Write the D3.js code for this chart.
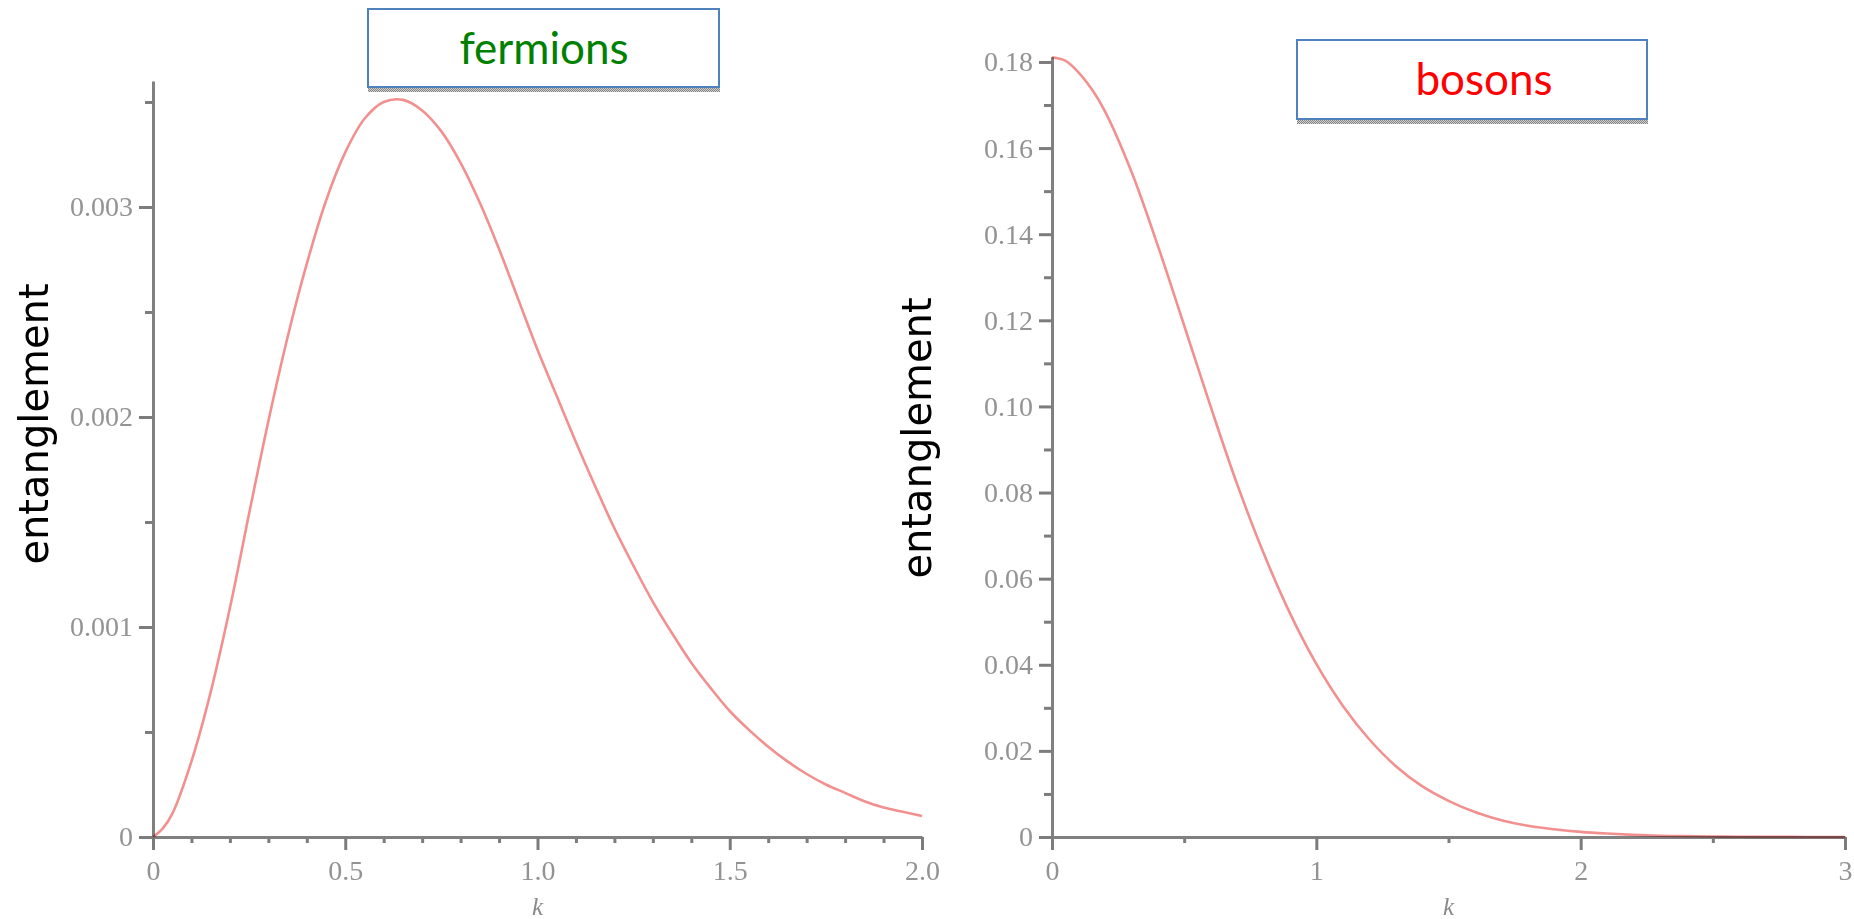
<!DOCTYPE html>
<head>
  <meta charset="utf-8">
  <script src="https://d3js.org/d3.v7.min.js"></script>
  <style>
    body { margin:0; background:#fff; }
    .axis .tick text { font-family: "Liberation Serif", serif; font-size: 28px; fill: #939393; filter: url(#soft); }
    .axis path.domain { stroke: #808080; stroke-width: 3; }
    .axis .tick line { stroke: #7c7c7c; stroke-width: 3; }
  </style>
</head>
<body>
<script>

  // fermions: entanglement vs k
  var kFerm = [0, 0.025, 0.05, 0.1, 0.15, 0.2, 0.25, 0.3, 0.35, 0.4, 0.45, 0.5, 0.55, 0.6, 0.65, 0.7,
    0.75, 0.8, 0.85, 0.9, 0.95, 1.0, 1.05, 1.1, 1.15, 1.2, 1.25, 1.3, 1.35, 1.4, 1.45, 1.5,
    1.55, 1.6, 1.65, 1.7, 1.75, 1.8, 1.85, 1.9, 1.95, 2.0]
  var entFerm = [0, 0.00004, 0.00011, 0.00036, 0.00069, 0.00109, 0.00154, 0.00198, 0.00238, 0.00273,
    0.00303, 0.00326, 0.00342, 0.0035, 0.00351, 0.00346, 0.00336, 0.00321, 0.00302, 0.0028,
    0.00256, 0.00232, 0.0021, 0.00188, 0.00167, 0.00147, 0.00129, 0.00112, 0.00097, 0.00083,
    0.00071, 0.0006, 0.00051, 0.00043, 0.00036, 0.0003, 0.00025, 0.00021, 0.00017, 0.00014,
    0.00012, 0.0001]

  // bosons
  var kBos = [0, 0.05, 0.1, 0.15, 0.2, 0.3, 0.4, 0.5, 0.6, 0.7, 0.8, 0.9, 1.0, 1.1, 1.2, 1.3, 1.4, 1.5,
    1.6, 1.7, 1.8, 1.9, 2.0, 2.1, 2.2, 2.3, 2.4, 2.5, 2.6, 2.7, 2.8, 2.9, 3.0]
  var entBos = [0.1811, 0.1803, 0.1776, 0.1737, 0.1686, 0.1546, 0.1374, 0.1188, 0.1, 0.082, 0.066, 0.052,
    0.0402, 0.0305, 0.0227, 0.0165, 0.0118, 0.0084, 0.0058, 0.0039, 0.0026, 0.0018, 0.0012,
    0.0008, 0.0005, 0.0003, 0.0002, 0.0001, 0.00005, 0.00003, 0.00002, 0.00001, 0]

  // ticks
  var fermYTicks = [0, 0.001, 0.002, 0.003]
  var fermYLabels = ["0", "0.001", "0.002", "0.003"]
  var fermYMinor = [0.0005, 0.0015, 0.0025, 0.0035]
  var fermXTicks = [0, 0.5, 1.0, 1.5, 2.0]
  var fermXLabels = ["0", "0.5", "1.0", "1.5", "2.0"]
  var fermXMinor = [0.1, 0.2, 0.3, 0.4, 0.6, 0.7, 0.8, 0.9, 1.1, 1.2, 1.3, 1.4, 1.6, 1.7, 1.8, 1.9]

  var bosYTicks = [0, 0.02, 0.04, 0.06, 0.08, 0.10, 0.12, 0.14, 0.16, 0.18]
  var bosYLabels = ["0", "0.02", "0.04", "0.06", "0.08", "0.10", "0.12", "0.14", "0.16", "0.18"]
  var bosYMinor = [0.01, 0.03, 0.05, 0.07, 0.09, 0.11, 0.13, 0.15, 0.17]
  var bosXTicks = [0, 1, 2, 3]
  var bosXLabels = ["0", "1", "2", "3"]
  var bosXMinor = [0.5, 1.5, 2.5]

  var svg = d3.select("body")
    .append("svg")
    .attr("width", 1854)
    .attr("height", 919)

  var defs = svg.append("defs")
  defs.append("filter").attr("id", "soft")
    .append("feGaussianBlur").attr("stdDeviation", 0.55)

  // hatched strip under the title boxes
  var pat = defs.append("pattern")
    .attr("id", "hatch")
    .attr("width", 2).attr("height", 2)
    .attr("patternUnits", "userSpaceOnUse")
  pat.append("rect").attr("width", 2).attr("height", 2).attr("fill", "#d4d4d4")
  pat.append("rect").attr("width", 1).attr("height", 1).attr("fill", "#808080")
  pat.append("rect").attr("x", 1).attr("y", 1).attr("width", 1).attr("height", 1).attr("fill", "#808080")

  function panel(p) {
    var x = d3.scaleLinear().domain(p.xDomain).range(p.xRange)
    var y = d3.scaleLinear().domain(p.yDomain).range(p.yRange)
    var x0 = p.xRange[0], y0 = p.yRange[0]

    // minor ticks
    var gm = svg.append("g").attr("class", "axis")
      .attr("transform", "translate(" + x0 + ",0)")
      .call(d3.axisLeft(y).tickValues(p.yMinor).tickSize(8).tickFormat(""))
    gm.select(".domain").remove()
    var gmx = svg.append("g").attr("class", "axis")
      .attr("transform", "translate(0," + y0 + ")")
      .call(d3.axisBottom(x).tickValues(p.xMinor).tickSize(6).tickFormat(""))
    gmx.select(".domain").remove()

    // major axes
    svg.append("g").attr("class", "axis")
      .attr("transform", "translate(0," + y0 + ")")
      .call(d3.axisBottom(x).tickValues(p.xTicks).tickSize(13).tickPadding(10).tickSizeOuter(0)
        .tickFormat(function(d, i) { return p.xLabels[i] }))
    svg.append("g").attr("class", "axis")
      .attr("transform", "translate(" + x0 + ",0)")
      .call(d3.axisLeft(y).tickValues(p.yTicks).tickSize(p.yTickLen).tickPadding(6).tickSizeOuter(0)
        .tickFormat(function(d, i) { return p.yLabels[i] }))

    var line = d3.line()
      .x(function(d, i) { return x(p.k[i]) })
      .y(function(d) { return y(d) })
      .curve(d3.curveCatmullRom.alpha(0.5))

    svg.append("path")
      .datum(p.v)
      .attr("d", line)
      .attr("fill", "none")
      .attr("stroke", "#f29090")
      .attr("stroke-width", 2.6)
      .style("mix-blend-mode", "multiply")

    svg.append("text")
      .attr("x", (p.xRange[0] + p.xRange[1]) / 2)
      .attr("y", 915)
      .attr("text-anchor", "middle")
      .style("font-family", "Liberation Serif")
      .style("font-style", "italic")
      .style("font-size", "25px")
      .style("fill", "#8a8a8a")
      .style("filter", "url(#soft)")
      .text("k")

    svg.append("text")
      .attr("transform", "translate(" + p.labelX + "," + p.labelY + ") rotate(-90)")
      .attr("text-anchor", "middle")
      .style("font-family", "DejaVu Sans")
      .style("font-size", "40px")
      .style("fill", "#000")
      .text("entanglement")

    // title box
    var b = p.box
    svg.append("rect")
      .attr("x", b[0]).attr("y", b[3] + 1).attr("width", b[2] - b[0] + 1).attr("height", 4)
      .attr("fill", "url(#hatch)")
    svg.append("rect")
      .attr("x", b[0]).attr("y", b[1]).attr("width", b[2] - b[0]).attr("height", b[3] - b[1])
      .attr("fill", "#fff").attr("stroke", "#4f81bd").attr("stroke-width", 2)
    svg.append("text")
      .attr("x", p.titleX).attr("y", p.titleY)
      .attr("text-anchor", "middle")
      .style("font-family", "Lato")
      .style("font-size", "44px")
      .style("fill", p.titleColor)
      .text(p.title)
  }

  panel({
    k: kFerm, v: entFerm,
    xDomain: [0, 2], xRange: [153, 922],
    yDomain: [0, 0.0036], yRange: [837, 81],
    xTicks: fermXTicks, xLabels: fermXLabels, xMinor: fermXMinor,
    yTicks: fermYTicks, yLabels: fermYLabels, yMinor: fermYMinor, yTickLen: 14,
    labelX: 48, labelY: 424,
    box: [368, 9, 719, 87], title: "fermions", titleColor: "#008000", titleX: 544, titleY: 64
  })

  panel({
    k: kBos, v: entBos,
    xDomain: [0, 3], xRange: [1052, 1845],
    yDomain: [0, 0.1812], yRange: [837, 56.8],
    xTicks: bosXTicks, xLabels: bosXLabels, xMinor: bosXMinor,
    yTicks: bosYTicks, yLabels: bosYLabels, yMinor: bosYMinor, yTickLen: 13,
    labelX: 931, labelY: 438,
    box: [1297, 40, 1647, 119], title: "bosons", titleColor: "#ff0000", titleX: 1484, titleY: 95
  })

</script>
</body>
